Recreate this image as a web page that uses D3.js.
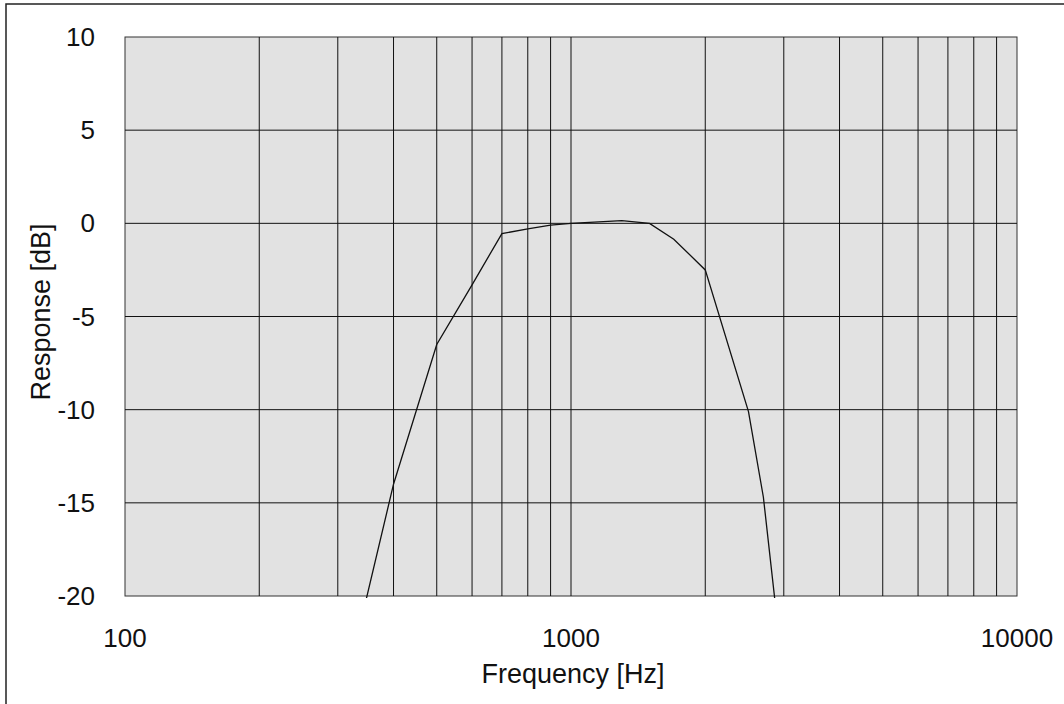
<!DOCTYPE html>
<html>
<head>
<meta charset="utf-8">
<script src="https://cdn.jsdelivr.net/npm/d3@7"></script>
<style>
  body { margin: 0; background: #fff; }
  svg { display: block; font-family: "Liberation Sans", Arial, sans-serif; }
</style>
</head>
<body>
<div id="chart"></div>
<script>
(function () {
    // Data
    const frequencies = [300, 400, 500, 600, 700, 800, 900, 1000, 1300, 1500, 1700, 2000, 2500, 2700, 3000];
    const responses = [-26.6, -14, -6.5, -3.3, -0.55, -0.3, -0.1, 0, 0.14, 0, -0.85, -2.5, -10.1, -14.7, -24.5];
    const xTicks = [100, 1000, 10000];
    const xGrid = [200, 300, 400, 500, 600, 700, 800, 900, 1000, 2000, 3000, 4000, 5000, 6000, 7000, 8000, 9000];
    const yTicks = [-20, -15, -10, -5, 0, 5, 10];

    const width = 1064, height = 704;
    const plot = { left: 125, top: 37, right: 1017, bottom: 596 };

    const svg = d3.select("#chart")
        .append("svg")
        .attr("width", width)
        .attr("height", height);

    // Outer frame (only left/top edges visible in the picture)
    svg.append("rect")
        .attr("x", 6).attr("y", 4)
        .attr("width", 1200).attr("height", 900)
        .attr("fill", "none")
        .attr("stroke", "#222")
        .attr("stroke-width", 1.5);

    const x = d3.scaleLog().domain([100, 10000]).range([plot.left, plot.right]);
    const y = d3.scaleLinear().domain([-20, 10]).range([plot.bottom, plot.top]);

    // Plot background
    svg.append("rect")
        .attr("x", plot.left).attr("y", plot.top)
        .attr("width", plot.right - plot.left)
        .attr("height", plot.bottom - plot.top)
        .attr("fill", "#e2e2e2")
        .attr("stroke", "#333")
        .attr("stroke-width", 1);

    // Grid lines
    svg.append("g").selectAll("line")
        .data(xGrid)
        .enter().append("line")
        .attr("x1", d => x(d)).attr("x2", d => x(d))
        .attr("y1", plot.top).attr("y2", plot.bottom)
        .attr("stroke", "#111")
        .attr("stroke-width", 1);

    svg.append("g").selectAll("line")
        .data(yTicks.filter(d => d > -20 && d < 10))
        .enter().append("line")
        .attr("x1", plot.left).attr("x2", plot.right)
        .attr("y1", d => y(d)).attr("y2", d => y(d))
        .attr("stroke", "#111")
        .attr("stroke-width", 1);

    // Clip for the curve
    svg.append("clipPath").attr("id", "plotClip")
        .append("rect")
        .attr("x", plot.left).attr("y", plot.top)
        .attr("width", plot.right - plot.left)
        .attr("height", plot.bottom - plot.top + 2);

    const data = frequencies.map((f, i) => ({ f: f, r: responses[i] }));
    const line = d3.line().x(d => x(d.f)).y(d => y(d.r));

    svg.append("path")
        .datum(data)
        .attr("clip-path", "url(#plotClip)")
        .attr("fill", "none")
        .attr("stroke", "#111")
        .attr("stroke-width", 1.3)
        .attr("d", line);

    // Tick labels
    svg.append("g").selectAll("text")
        .data(xTicks)
        .enter().append("text")
        .attr("x", d => x(d))
        .attr("y", 647)
        .attr("text-anchor", "middle")
        .attr("font-size", 26)
        .attr("fill", "#111")
        .text(d => d);

    svg.append("g").selectAll("text")
        .data(yTicks)
        .enter().append("text")
        .attr("x", 95)
        .attr("y", d => y(d) + 9)
        .attr("text-anchor", "end")
        .attr("font-size", 26)
        .attr("fill", "#111")
        .text(d => d);

    // Axis titles
    svg.append("text")
        .attr("x", (plot.left + plot.right) / 2 + 2)
        .attr("y", 683)
        .attr("text-anchor", "middle")
        .attr("font-size", 27)
        .attr("fill", "#111")
        .text("Frequency [Hz]");

    svg.append("text")
        .attr("transform", "translate(50," + 312 + ") rotate(-90)")
        .attr("text-anchor", "middle")
        .attr("font-size", 27)
        .attr("fill", "#111")
        .text("Response [dB]");
})();
</script>
</body>
</html>
